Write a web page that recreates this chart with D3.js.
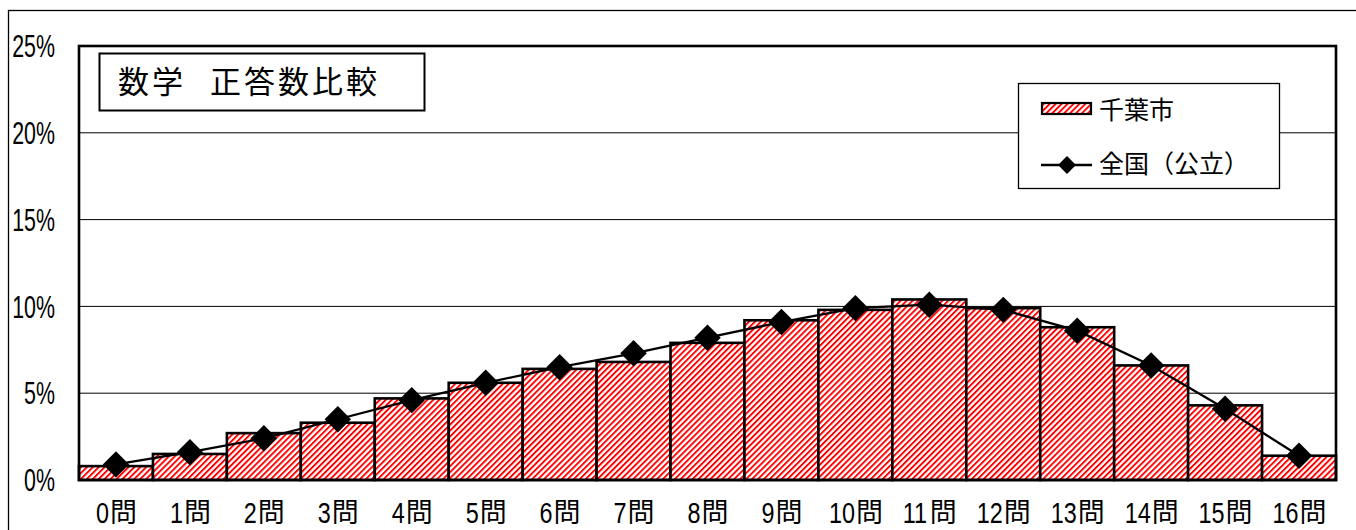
<!DOCTYPE html>
<html>
<head>
<meta charset="utf-8">
<script src="https://cdn.jsdelivr.net/npm/d3@7"></script>
<style>
  body { margin: 0; background: #fff; }
  text { fill: #000; }
  .num { font-family: "Liberation Sans", Arial, sans-serif; }
  .jp { font-family: "Noto Sans CJK JP", sans-serif; }
</style>
</head>
<body>
<div id="chart"></div>
<script>

// answer counts (categories)
var categories = ["0問", "1問", "2問", "3問", "4問", "5問", "6問", "7問", "8問", "9問", "10問", "11問", "12問", "13問", "14問", "15問", "16問"];
// 千葉市 (bars), percent
var chibaValues = [0.8, 1.5, 2.7, 3.3, 4.7, 5.6, 6.4, 6.8, 7.9, 9.2, 9.8, 10.4, 9.9, 8.8, 6.6, 4.3, 1.4];
// 全国（公立） (line), percent
var nationalValues = [0.9, 1.6, 2.4, 3.5, 4.6, 5.6, 6.5, 7.3, 8.2, 9.1, 9.9, 10.1, 9.8, 8.6, 6.6, 4.1, 1.4];
var yTicks = [0, 5, 10, 15, 20, 25];
var seriesNames = ["千葉市", "全国（公立）"];
var titleParts = ["数学", "正答数比較"];

var W = 1356, H = 530;
var margin = {top: 46, right: 20, bottom: 50, left: 79};
var width = 1336 - margin.left;
var height = 480 - margin.top;
var squeeze = 0.78; // the original uses a tall narrow gothic font for digits

var svg = d3.select("#chart")
  .append("svg")
  .attr("width", W)
  .attr("height", H);

// hatch pattern like excel's wide upward diagonal
var defs = svg.append("defs");
var pat = defs.append("pattern")
  .attr("id", "hatch")
  .attr("patternUnits", "userSpaceOnUse")
  .attr("width", 4.2)
  .attr("height", 10)
  .attr("patternTransform", "rotate(45)");
pat.append("rect").attr("width", 4.2).attr("height", 10).attr("fill", "#fff");
pat.append("rect").attr("width", 1.9).attr("height", 10).attr("fill", "#ff0000");

// outer chart border
svg.append("rect")
  .attr("x", 8.5).attr("y", 10.5)
  .attr("width", 1400).attr("height", 600)
  .attr("fill", "#fff")
  .attr("stroke", "#000")
  .attr("stroke-width", 1.3);

var g = svg.append("g")
  .attr("transform", "translate(" + margin.left + "," + margin.top + ")");

var x = d3.scaleBand()
  .domain(categories)
  .range([0, width])
  .padding(0);

var y = d3.scaleLinear()
  .domain([0, 25])
  .range([height, 0]);

// gridlines
g.selectAll(".grid")
  .data(yTicks.filter(d => d > 0 && d < 25))
  .enter().append("line")
  .attr("x1", 0).attr("x2", width)
  .attr("y1", d => y(d)).attr("y2", d => y(d))
  .attr("stroke", "#000")
  .attr("stroke-width", 1);

// y labels
svg.selectAll(".ylab")
  .data(yTicks)
  .enter().append("text")
  .attr("class", "num")
  .attr("transform", d => "translate(55," + (margin.top + y(d)) + ") scale(0.69,1)")
  .attr("dy", "0.36em")
  .attr("text-anchor", "end")
  .attr("font-size", "31px")
  .text(d => d + "%");

// x labels: number part squeezed, 問 normal
var xg = svg.selectAll(".xlab")
  .data(categories)
  .enter().append("g")
  .attr("transform", d => {
    var n = d.replace("問", "").length;
    return "translate(" + (margin.left + x(d) + x.bandwidth() / 2 - (n * 13 + 27) / 2) + ",512)";
  });
xg.append("text")
  .attr("class", "num")
  .attr("transform", "scale(" + squeeze + ",1)")
  .attr("dy", "0.36em")
  .attr("font-size", "30px")
  .text(d => d.replace("問", ""));
xg.append("text")
  .attr("class", "jp")
  .attr("x", d => d.replace("問", "").length * 13 + 1)
  .attr("dy", "0.36em")
  .attr("font-size", "27px")
  .text("問");

// bars
g.selectAll(".bar")
  .data(chibaValues)
  .enter().append("rect")
  .attr("x", (d, i) => x(categories[i]))
  .attr("y", d => y(d))
  .attr("width", x.bandwidth())
  .attr("height", d => y(0) - y(d))
  .attr("fill", "url(#hatch)")
  .attr("stroke", "#000")
  .attr("stroke-width", 2.6);

// plot border
g.append("rect")
  .attr("x", 0).attr("y", 0)
  .attr("width", width).attr("height", height)
  .attr("fill", "none")
  .attr("stroke", "#000")
  .attr("stroke-width", 2.6);

// national line
var line = d3.line()
  .x((d, i) => x(categories[i]) + x.bandwidth() / 2)
  .y(d => y(d));

g.append("path")
  .datum(nationalValues)
  .attr("d", line)
  .attr("fill", "none")
  .attr("stroke", "#000")
  .attr("stroke-width", 2.3);

var diamond = d3.symbol().type(d3.symbolSquare).size(350);
g.selectAll(".mark")
  .data(nationalValues)
  .enter().append("path")
  .attr("d", diamond)
  .attr("transform", (d, i) => "translate(" + (x(categories[i]) + x.bandwidth() / 2) + "," + y(d) + ") rotate(45)")
  .attr("fill", "#000");

// title box
svg.append("rect")
  .attr("x", 99.5).attr("y", 53.5)
  .attr("width", 325).attr("height", 57)
  .attr("fill", "#fff")
  .attr("stroke", "#000")
  .attr("stroke-width", 2);
svg.selectAll(".title")
  .data(titleParts)
  .enter().append("text")
  .attr("class", "jp")
  .attr("x", (d, i) => i === 0 ? 118 : 210)
  .attr("y", 82)
  .attr("dy", "0.36em")
  .attr("font-size", "31px")
  .attr("letter-spacing", "3px")
  .text(d => d);

// legend
var legend = svg.append("g");
legend.append("rect")
  .attr("x", 1018.5).attr("y", 83.5)
  .attr("width", 261).attr("height", 105)
  .attr("fill", "#fff")
  .attr("stroke", "#000")
  .attr("stroke-width", 1.3);

legend.append("rect")
  .attr("x", 1042).attr("y", 103)
  .attr("width", 49).attr("height", 11)
  .attr("fill", "url(#hatch)")
  .attr("stroke", "#000")
  .attr("stroke-width", 2.2);

legend.append("line")
  .attr("x1", 1041).attr("x2", 1092)
  .attr("y1", 165).attr("y2", 165)
  .attr("stroke", "#000")
  .attr("stroke-width", 2.3);
legend.append("path")
  .attr("d", d3.symbol().type(d3.symbolSquare).size(160))
  .attr("transform", "translate(1067,165) rotate(45)")
  .attr("fill", "#000");

legend.selectAll(".legtext")
  .data(seriesNames)
  .enter().append("text")
  .attr("class", "jp")
  .attr("x", 1099)
  .attr("y", (d, i) => i === 0 ? 110 : 164)
  .attr("dy", "0.36em")
  .attr("font-size", "25px")
  .text(d => d);

</script>
</body>
</html>
